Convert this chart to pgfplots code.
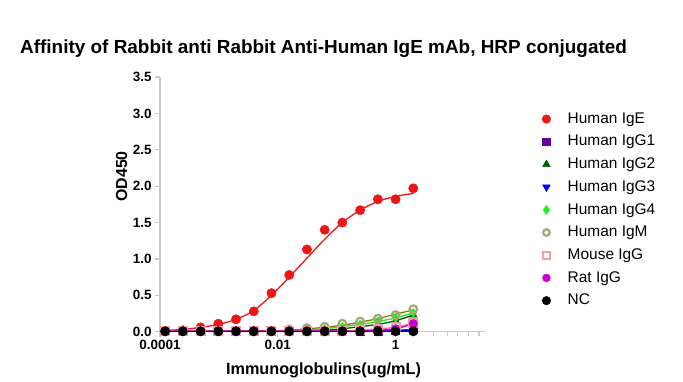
\documentclass[border=0pt]{standalone}
\usepackage{pgfplots}
\pgfplotsset{compat=1.18}
\usepackage{fontspec}
\setmainfont{Liberation Sans}
\definecolor{axisgray}{RGB}{200,200,200}
\definecolor{igered}{RGB}{240,20,20}
\definecolor{igg1}{RGB}{102,0,153}
\definecolor{igg2}{RGB}{0,90,0}
\definecolor{igg3}{RGB}{0,0,255}
\definecolor{igg4}{RGB}{30,240,30}
\definecolor{igmtan}{RGB}{170,165,120}
\definecolor{igmline}{RGB}{128,128,0}
\definecolor{mousepink}{RGB}{240,160,160}
\definecolor{mouseline}{RGB}{255,100,170}
\definecolor{ratmag}{RGB}{200,0,200}

\pgfplotstableread{
x IgE IgEfit IgG1 IgG2 IgG3 IgG4 IgM IgMfit Mouse Rat NC
0.00012207 0.01 0.02 0.01 0.01 0.01 0.01 0.01 0.01 0.01 0.01 0.005
0.00024414 0.02 0.03 0.01 0.01 0.01 0.01 0.01 0.01 0.01 0.01 0.005
0.00048828 0.06 0.06 0.01 0.01 0.01 0.01 0.01 0.01 0.01 0.01 0.005
0.00097656 0.11 0.10 0.01 0.01 0.01 0.01 0.01 0.01 0.01 0.01 0.005
0.0019531  0.17 0.17 0.01 0.01 0.01 0.01 0.01 0.01 0.01 0.01 0.005
0.0039063  0.28 0.29 0.01 0.01 0.01 0.01 0.01 0.01 0.01 0.01 0.005
0.0078125  0.53 0.50 0.01 0.01 0.01 0.01 0.01 0.015 0.01 0.01 0.005
0.015625   0.78 0.75 0.01 0.01 0.01 0.01 0.03 0.02 0.01 0.01 0.005
0.03125    1.13 1.01 0.01 0.02 0.01 0.02 0.05 0.04 0.01 0.01 0.005
0.0625     1.40 1.27 0.01 0.02 0.01 0.04 0.07 0.06 0.01 0.01 0.005
0.125      1.50 1.50 0.01 0.04 0.01 0.07 0.11 0.09 0.01 0.01 0.005
0.25       1.67 1.67 0.01 0.07 0.01 0.10 0.14 0.13 0.02 0.01 0.005
0.5        1.82 1.79 0.01 0.10 0.01 0.14 0.18 0.18 0.04 0.02 0.005
1          1.82 1.86 0.02 0.15 0.01 0.19 0.23 0.24 0.06 0.04 0.005
2          1.97 1.90 0.03 0.23 0.02 0.26 0.31 0.30 0.12 0.11 0.005
}\datatable

\begin{document}
\begin{tikzpicture}[x=1bp,y=1bp]
\path[use as bounding box] (0,0) rectangle (683,381);
\begin{axis}[
  at={(160bp,49.3bp)}, anchor=south west,
  scale only axis, width=325bp, height=254.7bp,
  xmode=log, xmin=1e-4, xmax=33, ymin=0, ymax=3.5,
  axis lines=left, axis line style={draw=axisgray, line width=1.5bp, -},
  xtick={0.0001,0.01,1}, xticklabels={0.0001,0.01,1},
  minor xtick={4.4,7.7,11.4,17.5,26},
  ytick={0,0.5,1,1.5,2,2.5,3,3.5},
  y tick label style={/pgf/number format/.cd, fixed, fixed zerofill, precision=1},
  /pgf/number format/assume math mode=true,
  tick style={draw=axisgray, line width=1.2bp},
  tick align=outside, major tick length=5bp, minor tick length=4bp,
  ticklabel style={font=\fontsize{13.5}{14}\selectfont\bfseries},
  clip=false,
  legend style={at={(rel axis cs:1.166,0.872)}, anchor=north west, draw=none, fill=none,
    font=\fontsize{15.5}{16}\selectfont, row sep=8.2bp,
    nodes={inner sep=0pt, text height=11.5bp, text depth=3bp},
    /tikz/every odd column/.append style={column sep=17bp}},
  legend cell align=left,
]
% fitted curves
\addplot[igered, line width=1.3bp, smooth, no marks, forget plot] table[x=x,y=IgEfit]{\datatable};
\addplot[igg1, line width=1.3bp, smooth, no marks, forget plot] table[x=x,y=IgG1]{\datatable};
\addplot[igg2, line width=1.3bp, smooth, no marks, forget plot] table[x=x,y=IgG2]{\datatable};
\addplot[igg3, line width=1.3bp, smooth, no marks, forget plot] table[x=x,y=IgG3]{\datatable};
\addplot[igg4, line width=1.3bp, smooth, no marks, forget plot] table[x=x,y=IgG4]{\datatable};
\addplot[igmline, line width=1.3bp, smooth, no marks, forget plot] table[x=x,y=IgMfit]{\datatable};
\addplot[mouseline, line width=1.3bp, smooth, no marks, forget plot] table[x=x,y=Mouse]{\datatable};
\addplot[ratmag, line width=1.3bp, smooth, no marks, forget plot] table[x=x,y=Rat]{\datatable};
\addplot[black, line width=1.3bp, no marks, forget plot] table[x=x,y=NC]{\datatable};
% points
\addplot[only marks, mark=*, mark size=4.7bp, igered, forget plot] table[x=x,y=IgE]{\datatable};
\addplot[only marks, mark=square*, mark size=4bp, igg1, forget plot] table[x=x,y=IgG1]{\datatable};
\addplot[only marks, mark=triangle*, mark size=4.5bp, igg2, forget plot] table[x=x,y=IgG2]{\datatable};
\addplot[only marks, mark=triangle*, mark size=4.5bp, mark options={rotate=180}, igg3, forget plot] table[x=x,y=IgG3]{\datatable};
\addplot[only marks, mark=diamond*, mark size=4.5bp, igg4, forget plot] table[x=x,y=IgG4]{\datatable};
\addplot[only marks, mark=o, mark size=3.8bp, igmtan, mark options={line width=2.2bp}, forget plot] table[x=x,y=IgM]{\datatable};
\addplot[only marks, mark=square, mark size=4bp, mousepink, mark options={line width=2bp}, forget plot] table[x=x,y=Mouse]{\datatable};
\addplot[only marks, mark=*, mark size=4.3bp, ratmag, forget plot] table[x=x,y=Rat]{\datatable};
\addplot[only marks, mark=*, mark size=4.7bp, black, forget plot] table[x=x,y=NC]{\datatable};
% legend
\addlegendimage{only marks, mark=*, mark size=4.3bp, igered}
\addlegendentry{Human IgE}
\addlegendimage{only marks, mark=square*, mark size=3.8bp, igg1}
\addlegendentry{Human IgG1}
\addlegendimage{only marks, mark=triangle*, mark size=4.5bp, igg2}
\addlegendentry{Human IgG2}
\addlegendimage{only marks, mark=triangle*, mark size=4.5bp, mark options={rotate=180}, igg3}
\addlegendentry{Human IgG3}
\addlegendimage{only marks, mark=diamond*, mark size=4.5bp, igg4}
\addlegendentry{Human IgG4}
\addlegendimage{only marks, mark=o, mark size=3.3bp, mark options={line width=2.2bp}, igmtan}
\addlegendentry{Human IgM}
\addlegendimage{only marks, mark=square, mark size=3.6bp, mark options={line width=2bp}, mousepink}
\addlegendentry{Mouse IgG}
\addlegendimage{only marks, mark=*, mark size=4bp, ratmag}
\addlegendentry{Rat IgG}
\addlegendimage{only marks, mark=*, mark size=4.3bp, black}
\addlegendentry{NC}
\end{axis}
\node[anchor=base west, inner sep=0pt, font=\fontsize{19}{21}\selectfont\bfseries] at (20,327.7) {Affinity of Rabbit anti Rabbit Anti-Human IgE mAb, HRP conjugated};
\node[anchor=base, inner sep=0pt, font=\fontsize{16.3}{18}\selectfont\bfseries] at (323.5,6.5) {Immunoglobulins(ug/mL)};
\node[anchor=base, inner sep=0pt, rotate=90, font=\fontsize{16}{18}\selectfont\bfseries] at (127,204.5) {OD450};
\end{tikzpicture}
\end{document}
